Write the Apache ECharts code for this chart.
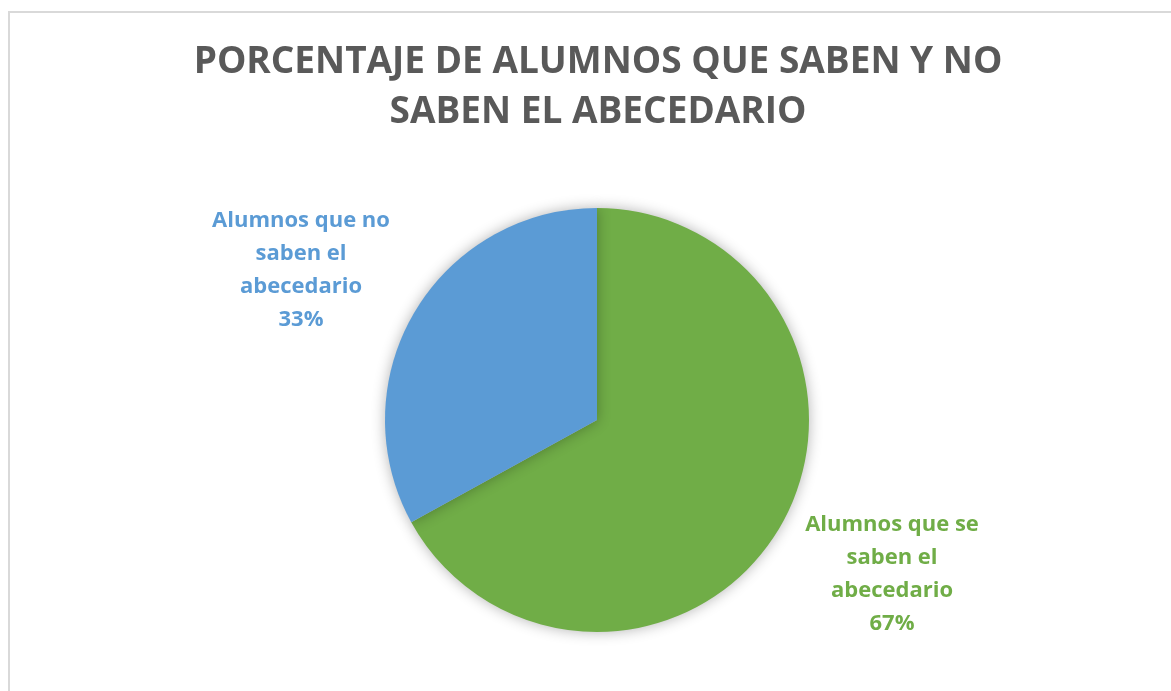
<!DOCTYPE html>
<html>
<head>
<meta charset="utf-8">
<script src="https://cdn.jsdelivr.net/npm/echarts@6/dist/echarts.min.js"></script>
<style>
  html, body { margin: 0; padding: 0; background: #fff; }
  #chart { width: 1171px; height: 691px; }
</style>
</head>
<body>
<div id="chart"></div>
<script>
// datos
var categories = ['Alumnos que se\nsaben el\nabecedario', 'Alumnos que no\nsaben el\nabecedario'];
var values = [67, 33];
var colors = ['#70AD47', '#5B9BD5'];

// donde va cada etiqueta (centro del bloque de texto)
var labelPos = [[892, 574], [301, 270]];

var chart = echarts.init(document.getElementById('chart'));

var data = categories.map(function (name, i) {
    return {
        name: name,
        value: values[i],
        itemStyle: { color: colors[i] },
        label: { color: colors[i] }
    };
});

var option = {
    backgroundColor: '#fff',
    title: {
        text: 'PORCENTAJE DE ALUMNOS QUE SABEN Y NO\nSABEN EL ABECEDARIO',
        left: 593,
        textAlign: 'center',
        top: 32,
        textStyle: {
            fontFamily: 'Open Sans',
            fontWeight: 'bold',
            fontSize: 37,
            lineHeight: 50,
            color: '#595959'
        }
    },
    graphic: [{
        type: 'rect',
        shape: { x: 9, y: 12, width: 1300, height: 800 },
        style: { fill: 'none', stroke: '#d9d9d9', lineWidth: 2 },
        silent: true
    }],
    series: [{
        type: 'pie',
        center: [597, 420],
        radius: 212,
        startAngle: 90,
        clockwise: true,
        data: data,
        itemStyle: {
            shadowBlur: 14,
            shadowColor: 'rgba(0,0,0,0.3)'
        },
        label: {
            show: true,
            position: 'outside',
            formatter: function (p) {
                return p.name + '\n' + p.value + '%';
            },
            fontFamily: 'Open Sans',
            fontWeight: 'bold',
            fontSize: 22,
            lineHeight: 33,
            align: 'center'
        },
        labelLine: { show: false },
        labelLayout: function (params) {
            var pos = labelPos[params.dataIndex];
            return {
                x: pos[0],
                y: pos[1],
                align: 'center',
                verticalAlign: 'middle'
            };
        },
        emphasis: { disabled: true },
        animation: false
    }]
};

chart.setOption(option);
</script>
</body>
</html>
